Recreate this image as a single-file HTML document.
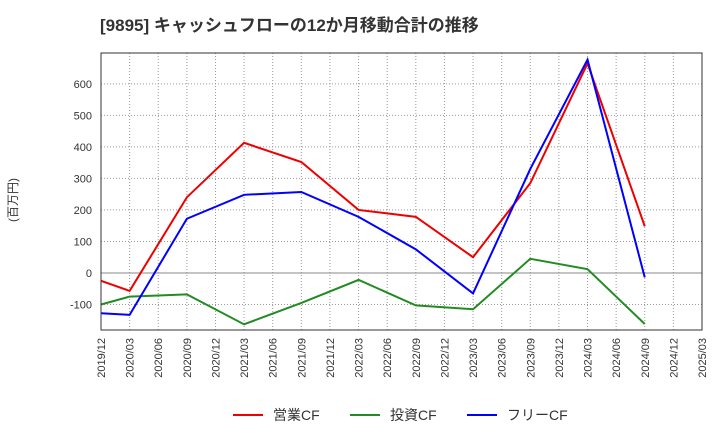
<!DOCTYPE html>
<html><head><meta charset="utf-8"><style>
body{margin:0;background:#fff;font-family:"Liberation Sans","Noto Sans CJK JP",sans-serif;}
svg text{font-family:"Liberation Sans","Noto Sans CJK JP",sans-serif;}
</style></head><body>
<svg id="c" width="720" height="440">
<text x="100" y="31" font-size="17" font-weight="bold" fill="#333">[9895]  キャッシュフローの12か月移動合計の推移</text>
<text transform="translate(17,200) rotate(-90)" text-anchor="middle" font-size="12" fill="#333">(百万円)</text>
<g id="grid"></g><g id="series"></g><g id="axes"></g>
<g>
<line x1="233" y1="415" x2="263" y2="415" stroke="#e00" stroke-width="2"/>
<text x="273" y="420" font-size="14" fill="#333">営業CF</text>
<line x1="350" y1="415" x2="380" y2="415" stroke="#228B22" stroke-width="2"/>
<text x="390" y="420" font-size="14" fill="#333">投資CF</text>
<line x1="467" y1="415" x2="497" y2="415" stroke="#00f" stroke-width="2"/>
<text x="507" y="420" font-size="14" fill="#333">フリーCF</text>
</g>
</svg>
<script>
const xLabels=["2019/12","2020/03","2020/06","2020/09","2020/12","2021/03","2021/06","2021/09","2021/12","2022/03","2022/06","2022/09","2022/12","2023/03","2023/06","2023/09","2023/12","2024/03","2024/06","2024/09","2024/12","2025/03"];
const yTicks=[-100,0,100,200,300,400,500,600];
const pointIdx=[0,1,3,5,7,9,11,13,15,17,19];
const operatingCF=[-25,-57,240,413,352,200,178,50,285,665,148];
const investingCF=[-100,-75,-68,-163,-95,-22,-103,-115,45,12,-162];
const freeCF=[-128,-133,172,248,257,178,75,-65,330,677,-14];
const L=101,R=702,T=53,B=330,yMin=-181,yMax=698;
const NS="http://www.w3.org/2000/svg";
const xs=i=>L+(R-L)*i/(xLabels.length-1);
const ys=v=>B-(v-yMin)/(yMax-yMin)*(B-T);
function mk(t,a,p){const e=document.createElementNS(NS,t);for(const k in a)e.setAttribute(k,a[k]);p.appendChild(e);return e;}
const grid=document.getElementById('grid'),axes=document.getElementById('axes'),ser=document.getElementById('series');
mk('rect',{x:L,y:T,width:R-L,height:B-T,fill:'#fff'},grid);
xLabels.forEach((lb,i)=>{const x=xs(i);
 const g=mk('line',{x1:x,y1:T,x2:x,y2:B,stroke:'#999','stroke-dasharray':'1,2'},grid);
 
 
 const t=mk('text',{transform:`translate(${x+4},${B+8}) rotate(-90)`,'text-anchor':'end','font-size':11,fill:'#333'},axes);
 t.textContent=lb;
 
 
});
for(let v=-100;v<=600;v+=100){const y=ys(v);
 const g=mk('line',{x1:L,y1:y,x2:R,y2:y,stroke:v===0?'#888':'#999','stroke-dasharray':v===0?'':'1,2'},grid);
 
 
}
yTicks.forEach(v=>{const t=mk('text',{x:L-9,y:ys(v)+4,'text-anchor':'end','font-size':11,fill:'#333'},axes);
 t.textContent=v;
 
 
});
const fr=mk('rect',{x:L,y:T,width:R-L,height:B-T,fill:'none',stroke:'#333'},axes);


[[operatingCF,'#e00','operating-cf-line'],[investingCF,'#228B22','investing-cf-line'],[freeCF,'#00f','free-cf-line']].forEach(([d,c,n])=>{
 const p=mk('polyline',{points:d.map((v,k)=>xs(pointIdx[k])+','+ys(v)).join(' '),fill:'none',stroke:c,'stroke-width':2},ser);
 
 
});
</script>
</body></html>
